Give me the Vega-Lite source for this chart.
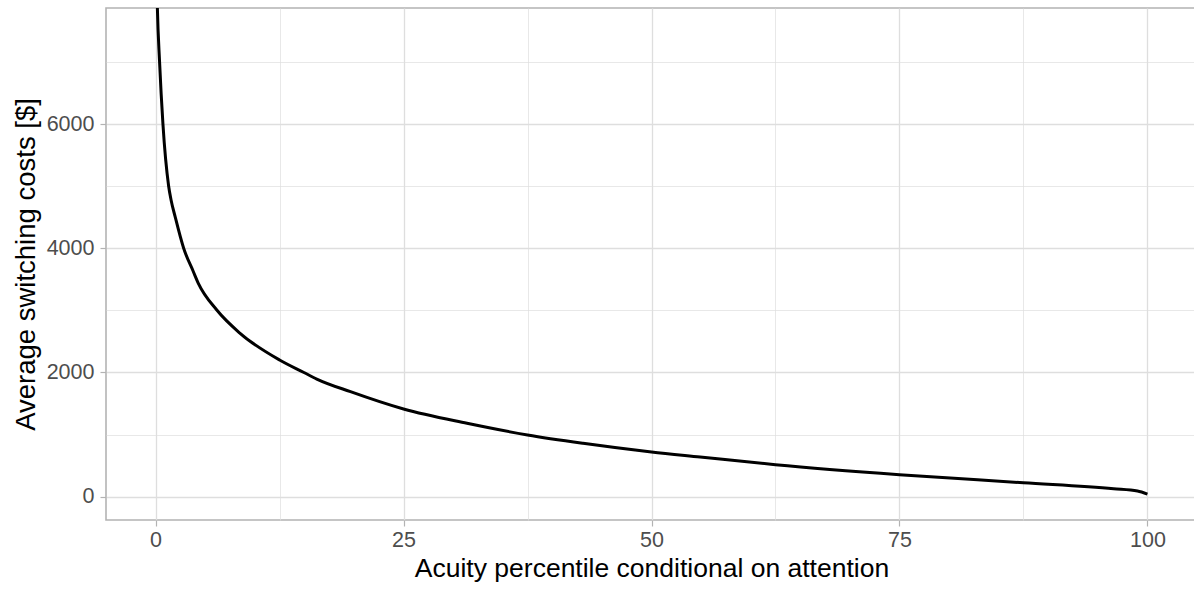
{
  "$schema": "https://vega.github.io/schema/vega-lite/v6.json",
  "width": 1091,
  "height": 512,
  "autosize": {"type": "none"},
  "padding": {"left": 106, "top": 8, "right": 0, "bottom": 70},
  "background": "white",
  "config": {
    "view": {"stroke": "#B3B3B3", "strokeWidth": 1.6},
    "font": "Liberation Sans",
    "axis": {
      "domain": false,
      "gridColor": "#DEDEDE",
      "tickColor": "#B3B3B3",
      "tickWidth": 1.2,
      "tickSize": 6,
      "labelColor": "#4D4D4D",
      "labelFontSize": 21.5,
      "labelFont": "Liberation Sans",
      "titleFont": "Liberation Sans",
      "titleFontSize": 27,
      "titleFontWeight": "normal",
      "titleColor": "#000000"
    }
  },
  "data": {
    "values": [
      {"x": 0.14, "y": 8150},
      {"x": 0.18, "y": 7869},
      {"x": 0.4, "y": 7005},
      {"x": 0.74, "y": 6002},
      {"x": 1.31, "y": 5008},
      {"x": 1.56, "y": 4778},
      {"x": 1.97, "y": 4509},
      {"x": 2.83, "y": 4000},
      {"x": 3.78, "y": 3634},
      {"x": 4.31, "y": 3436},
      {"x": 6.17, "y": 3006},
      {"x": 8.52, "y": 2631},
      {"x": 12.5, "y": 2201},
      {"x": 14.95, "y": 2000},
      {"x": 16.25, "y": 1895},
      {"x": 19.65, "y": 1691},
      {"x": 25, "y": 1412},
      {"x": 31.4, "y": 1182},
      {"x": 37.5, "y": 994},
      {"x": 43.1, "y": 860},
      {"x": 50, "y": 720},
      {"x": 54.9, "y": 639},
      {"x": 62.5, "y": 515},
      {"x": 75, "y": 354},
      {"x": 87.5, "y": 225},
      {"x": 96.6, "y": 129},
      {"x": 99, "y": 92},
      {"x": 100, "y": 43}
    ]
  },
  "mark": {"type": "line", "color": "#000000", "strokeWidth": 3, "interpolate": "monotone", "clip": true},
  "encoding": {
    "x": {
      "field": "x",
      "type": "quantitative",
      "scale": {"domain": [-5, 105], "nice": false, "zero": false},
      "axis": {
        "title": "Acuity percentile conditional on attention",
        "titleFontSize": 26.5,
        "values": [0, 12.5, 25, 37.5, 50, 62.5, 75, 87.5, 100],
        "labelExpr": "datum.value % 25 === 0 ? datum.label : ''",
        "tickOpacity": {"condition": {"test": "datum.value % 25 === 0", "value": 1}, "value": 0},
        "gridWidth": {"condition": {"test": "datum.value % 25 === 0", "value": 1.3}, "value": 0.7},
        "labelPadding": 3,
        "titlePadding": 5
      }
    },
    "y": {
      "field": "y",
      "type": "quantitative",
      "scale": {"domain": [-375, 7869], "nice": false, "zero": false},
      "axis": {
        "title": "Average switching costs [$]",
        "titleFontSize": 27.5,
        "values": [0, 1000, 2000, 3000, 4000, 5000, 6000, 7000],
        "labelExpr": "datum.value % 2000 === 0 ? datum.label : ''",
        "format": "d",
        "tickOpacity": {"condition": {"test": "datum.value % 2000 === 0", "value": 1}, "value": 0},
        "gridWidth": {"condition": {"test": "datum.value % 2000 === 0", "value": 1.3}, "value": 0.7},
        "labelPadding": 6,
        "titlePadding": 6
      }
    }
  }
}
